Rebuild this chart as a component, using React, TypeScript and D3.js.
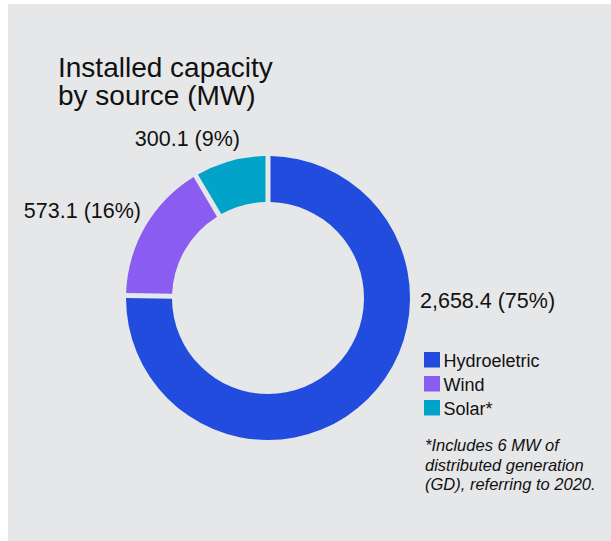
import React from "react";
import * as d3 from "d3";

const categories = ["Hydroeletric", "Wind", "Solar*"];
const values = [2658.4, 573.1, 300.1];
const labels = ["2,658.4 (75%)", "573.1 (16%)", "300.1 (9%)"];
const colors = ["#224CDD", "#8B5CF1", "#01A4C8"];
const titleLines = ["Installed capacity", "by source (MW)"];
const noteLines = ["*Includes 6 MW of", "distributed generation", "(GD), referring to 2020."];

const W = 611;
const H = 541;
const FONT = "'Liberation Sans', Arial, Helvetica, sans-serif";

export default function App() {
  const cx = 268;
  const cy = 298;
  const outerR = 142;
  const innerR = 96;

  const pie = d3.pie<number>().sort(null).value((d) => d);
  const arcs = pie(values);
  const arc = d3
    .arc<d3.PieArcDatum<number>>()
    .innerRadius(innerR)
    .outerRadius(outerR)
    .padAngle(0.05)
    .padRadius(100);

  // label anchor positions (x, baseline y, anchor)
  const labelPos: [number, number, string][] = [
    [420, 308, "start"],
    [141, 218, "end"],
    [240, 146, "end"],
  ];

  return (
    <svg
      width={W}
      height={H}
      style={{ position: "absolute", left: 0, top: 0, display: "block" }}
      fontFamily={FONT}
    >
      <rect x={8} y={4} width={W - 8} height={H - 4} fill="#E6E7E9" />
      <g fill="#111111" fontSize={28}>
        {titleLines.map((t, i) => (
          <text key={i} x={58} y={77 + i * 28}>
            {t}
          </text>
        ))}
      </g>
      <g transform={`translate(${cx},${cy})`}>
        {arcs.map((a, i) => (
          <path key={i} d={arc(a) || ""} fill={colors[i]} />
        ))}
      </g>
      <g fill="#111111" fontSize={21.5}>
        {labels.map((l, i) => (
          <text key={i} x={labelPos[i][0]} y={labelPos[i][1]} textAnchor={labelPos[i][2] as any}>
            {l}
          </text>
        ))}
      </g>
      <g fontSize={18} fill="#111111">
        {categories.map((c, i) => (
          <g key={i} transform={`translate(424,${352 + i * 24})`}>
            <rect width={16} height={15.5} fill={colors[i]} />
            <text x={19.5} y={14.5}>
              {c}
            </text>
          </g>
        ))}
      </g>
      <g fontSize={16.5} fontStyle="italic" fill="#111111">
        {noteLines.map((t, i) => (
          <text key={i} x={425} y={451 + i * 19.7}>
            {t}
          </text>
        ))}
      </g>
    </svg>
  );
}
